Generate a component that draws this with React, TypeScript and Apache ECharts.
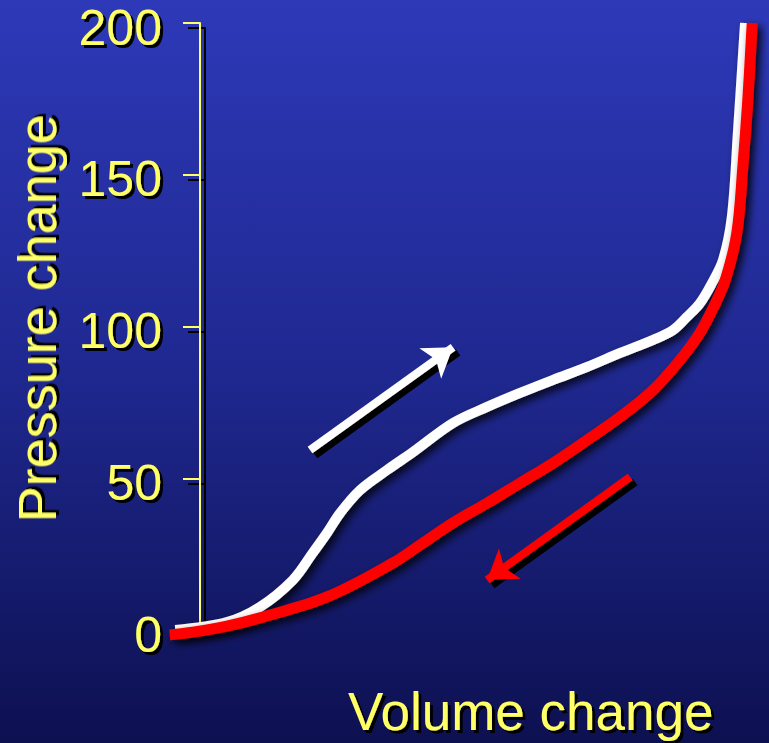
import React, { useEffect, useRef } from 'react';
import * as echarts from 'echarts';

// Y axis ticks
const yTicks = [0, 50, 100, 150, 200];

// Inflation limb (white)
const inflationVolume = [-4.5, 4.9, 10.9, 16.9, 20.5, 23.1, 25.5, 29.1, 34.0, 38.7, 46.0, 52.2, 58.2, 64.2, 70.4, 76.4, 82.4, 86.0, 88.5, 90.9, 93.0, 95.1, 96.7, 97.8, 99.1];
const inflationPressure = [0, 2.6, 7.6, 16.5, 25.4, 32.0, 38.6, 46.1, 52.7, 58.6, 68.2, 73.5, 78.1, 82.4, 86.7, 91.3, 95.6, 98.8, 103.1, 107.7, 114.0, 121.9, 136.1, 163.8, 200];

// Deflation limb (red)
const deflationVolume = [-5.5, -1.3, 4.9, 10.9, 23.1, 35.1, 40.0, 46.0, 52.2, 58.2, 64.2, 70.4, 76.4, 82.4, 87.3, 90.9, 93.3, 95.5, 97.6, 98.7, 99.6, 100.4];
const deflationPressure = [-1.6, -0.7, 1.3, 4.0, 10.9, 22.1, 28.0, 35.3, 41.8, 48.4, 55.0, 62.6, 70.2, 79.1, 89.0, 97.9, 106.1, 115.3, 130.8, 152.6, 174.6, 200];

// Direction arrows [tail, tip]
const inflationArrow = [[20.0, 59.3], [46.0, 93.2]];
const deflationArrow = [[78.2, 50.4], [52.2, 16.5]];

const YELLOW = '#ffff66';
const FONT = 'Liberation Sans, Arial, Helvetica, sans-serif';

const zip = (xs: number[], ys: number[]) => xs.map((x, i) => [x, ys[i]]);

export default function App() {
  const ref = useRef<HTMLDivElement>(null);
  useEffect(() => {
    if (!ref.current) return;
    const chart = echarts.init(ref.current, null, { renderer: 'svg' });
    const textShadow = {
      textShadowColor: '#000',
      textShadowOffsetX: 3,
      textShadowOffsetY: 3,
      textShadowBlur: 0.1,
    };
    const hiddenX = {
      type: 'value',
      min: -6,
      max: 102,
      axisLine: { show: false },
      axisTick: { show: false },
      axisLabel: { show: false },
      splitLine: { show: false },
    };
    chart.setOption({
      animation: false,
      backgroundColor: new echarts.graphic.LinearGradient(0, 0, 0, 1, [
        { offset: 0, color: '#2d39b8' },
        { offset: 0.5, color: '#1f2890' },
        { offset: 1, color: '#0d1050' },
      ]),
      title: {
        text: 'Volume change',
        left: 343,
        top: 680,
        textStyle: {
          color: YELLOW,
          fontFamily: FONT,
          fontSize: 53,
          fontWeight: 'normal',
          ...textShadow,
        },
      },
      grid: [
        { left: 167, right: 8, top: 23, bottom: 113, containLabel: false, outerBoundsMode: 'none' },
        { left: 172, right: 3, top: 28, bottom: 108, containLabel: false, outerBoundsMode: 'none', z: 0 },
      ],
      xAxis: [
        { ...hiddenX, gridIndex: 0 },
        { ...hiddenX, gridIndex: 1 },
      ],
      yAxis: [
        {
          type: 'value',
          gridIndex: 0,
          min: 0,
          max: 200,
          interval: 50,
          offset: -33,
          z: 2,
          name: 'Pressure change',
          nameLocation: 'middle',
          nameGap: 136,
          nameTextStyle: {
            color: YELLOW,
            fontFamily: FONT,
            fontSize: 54,
            padding: [0, 0, 0, 16],
            ...textShadow,
          },
          axisLine: { show: true, onZero: false, lineStyle: { color: YELLOW, width: 2 } },
          axisTick: { show: true, length: 17, lineStyle: { color: YELLOW, width: 2 } },
          axisLabel: {
            color: YELLOW,
            fontFamily: FONT,
            fontSize: 50,
            verticalAlign: 'top',
            lineHeight: 9,
            margin: 38,
            formatter: (v: number) => (yTicks.includes(v) ? String(v) : ''),
            ...textShadow,
          },
          splitLine: { show: false },
        },
        {
          // shadow copy of the axis
          type: 'value',
          gridIndex: 1,
          min: 0,
          max: 200,
          interval: 50,
          offset: -33,
          z: 1,
          axisLine: { show: true, onZero: false, lineStyle: { color: '#000', width: 2 } },
          axisTick: { show: true, length: 17, lineStyle: { color: '#000', width: 2 } },
          axisLabel: { show: false },
          splitLine: { show: false },
        },
      ],
      series: [
        {
          type: 'line',
          xAxisIndex: 0,
          yAxisIndex: 0,
          data: zip(inflationVolume, inflationPressure),
          smooth: 0.35,
          symbol: 'none',
          clip: false,
          lineStyle: {
            color: '#ffffff',
            width: 10,
            shadowColor: 'rgba(0,0,0,0.85)',
            shadowBlur: 8,
            shadowOffsetX: 4,
            shadowOffsetY: 4,
          },
          z: 3,
        },
        {
          type: 'line',
          xAxisIndex: 0,
          yAxisIndex: 0,
          data: zip(deflationVolume, deflationPressure),
          smooth: 0.35,
          symbol: 'none',
          clip: false,
          lineStyle: {
            color: '#ff0000',
            width: 11,
            shadowColor: 'rgba(0,0,0,0.85)',
            shadowBlur: 8,
            shadowOffsetX: 4,
            shadowOffsetY: 4,
          },
          z: 4,
        },
        {
          type: 'lines',
          coordinateSystem: 'cartesian2d',
          xAxisIndex: 0,
          yAxisIndex: 0,
          symbol: ['none', 'arrow'],
          symbolSize: 28,
          data: [
            { coords: inflationArrow, lineStyle: { color: '#ffffff' } },
            { coords: deflationArrow, lineStyle: { color: '#ff0000' } },
          ],
          lineStyle: {
            width: 8,
            opacity: 1,
            shadowColor: '#000',
            shadowBlur: 0.1,
            shadowOffsetX: 5,
            shadowOffsetY: 5,
          },
          z: 5,
        },
      ],
    });
    return () => chart.dispose();
  }, []);
  return (
    <div
      ref={ref}
      style={{ position: 'absolute', left: 0, top: 0, width: 769, height: 743 }}
    />
  );
}
